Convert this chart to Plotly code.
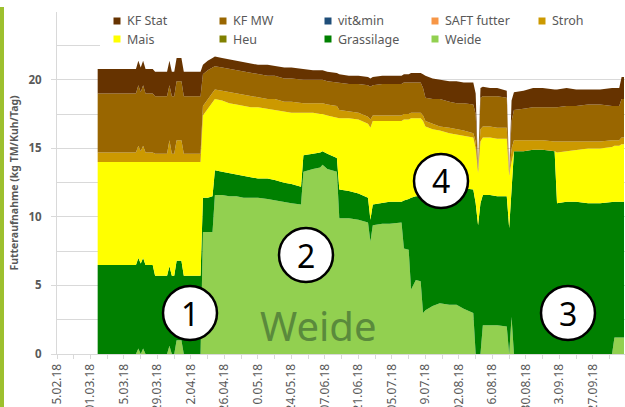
import plotly.graph_objects as go

# ---- data ----
dates = [
    "2018-03-04", "2018-03-20", "2018-03-21", "2018-03-22", "2018-03-23", "2018-03-24",
    "2018-03-27", "2018-03-28", "2018-04-02", "2018-04-03", "2018-04-04", "2018-04-05",
    "2018-04-06", "2018-04-08", "2018-04-09", "2018-04-16", "2018-04-17", "2018-04-19",
    "2018-04-21", "2018-04-22", "2018-04-25", "2018-04-28", "2018-05-01", "2018-05-04",
    "2018-05-07", "2018-05-10", "2018-05-14", "2018-05-17", "2018-05-21", "2018-05-24",
    "2018-05-28", "2018-05-29", "2018-06-02", "2018-06-05", "2018-06-06", "2018-06-08",
    "2018-06-12", "2018-06-13", "2018-06-17", "2018-06-21", "2018-06-25", "2018-06-26",
    "2018-06-27", "2018-07-01", "2018-07-04", "2018-07-09", "2018-07-10", "2018-07-12",
    "2018-07-13", "2018-07-15", "2018-07-17", "2018-07-18", "2018-07-19", "2018-07-22",
    "2018-07-25", "2018-07-29", "2018-08-01", "2018-08-04", "2018-08-08", "2018-08-09",
    "2018-08-10", "2018-08-11", "2018-08-12", "2018-08-15", "2018-08-18", "2018-08-22",
    "2018-08-23", "2018-08-24", "2018-08-25", "2018-08-29", "2018-09-02", "2018-09-06",
    "2018-09-11", "2018-09-12", "2018-09-16", "2018-09-20", "2018-09-25", "2018-09-30",
    "2018-10-05", "2018-10-06", "2018-10-08", "2018-10-09", "2018-10-10",
]

weide = [
    0, 0, 0.4, 0, 0.4, 0, 0, 0, 0, 0.6, 0, 0,
    1.0, 1.0, 0, 0, 8.9, 8.9, 8.9, 11.6, 11.6, 11.5, 11.5, 11.4,
    11.4, 11.4, 11.3, 11.2, 11.1, 11.0, 10.9, 13.3, 13.5, 13.6, 13.8, 13.5,
    13.3, 9.9, 9.9, 9.8, 9.6, 8.2, 9.4, 9.5, 9.5, 9.6, 7.7, 7.6,
    4.7, 5.4, 5.3, 3.0, 3.2, 3.5, 3.7, 3.6, 3.6, 3.3, 3.0, 0,
    0, 0, 2.1, 2.1, 2.1, 2.0, 0, 2.7, 0, 0, 0, 0,
    0, 0, 0, 0, 0, 0, 0, 1.2, 1.2, 1.2, 1.2,
]
grassilage = [
    6.5, 6.5, 6.6, 6.6, 6.6, 6.5, 6.5, 5.7, 5.7, 5.8, 5.7, 5.7,
    5.8, 5.8, 5.7, 5.7, 2.5, 2.5, 2.6, 1.8, 1.7, 1.7, 1.6, 1.6,
    1.5, 1.4, 1.5, 1.5, 1.4, 1.4, 1.3, 1.2, 1.1, 1.1, 1.0, 1.1,
    1.0, 2.1, 2.0, 1.9, 1.8, 1.6, 1.5, 1.5, 1.6, 1.5, 3.5, 3.7,
    6.7, 6.1, 6.2, 8.4, 8.2, 8.2, 8.3, 8.5, 8.5, 8.8, 9.0, 11.0,
    9.4, 11.0, 9.5, 9.5, 9.4, 9.5, 9.2, 9.8, 14.8, 14.8, 14.9, 14.9,
    14.8, 11.0, 11.1, 11.1, 11.0, 11.0, 11.1, 9.9, 9.9, 9.9, 9.9,
]
heu = [
    0, 0, 0, 0, 0, 0, 0, 0, 0, 0, 0, 0,
    0, 0, 0, 0, 0, 0, 0, 0, 0, 0, 0, 0,
    0, 0, 0, 0, 0, 0, 0, 0, 0, 0, 0, 0,
    0, 0, 0, 0, 0, 0, 0, 0, 0, 0, 0, 0,
    0, 0, 0, 0, 0, 0, 0, 0, 0, 0, 0, 0,
    0, 0, 0, 0, 0, 0, 0, 0, 0, 0, 0, 0,
    0, 0, 0, 0, 0, 0, 0, 0, 0, 0, 0,
]
mais = [
    7.5, 7.5, 7.0, 7.4, 7.0, 7.5, 7.5, 8.3, 8.3, 7.6, 8.3, 8.3,
    7.2, 7.2, 8.3, 8.3, 6.0, 6.5, 6.9, 5.2, 5.2, 5.1, 5.1, 5.1,
    5.1, 5.2, 5.1, 5.1, 5.2, 5.2, 5.4, 3.1, 3.0, 2.8, 2.7, 2.8,
    2.9, 5.2, 5.3, 5.4, 5.4, 6.7, 6.1, 6.0, 5.9, 5.9, 5.9, 5.8,
    5.8, 5.7, 5.7, 5.6, 5.2, 4.7, 4.3, 4.0, 3.9, 3.8, 3.8, 4.0,
    3.8, 4.5, 4.2, 4.2, 4.2, 4.2, 3.8, 1.5, 0, 0, 0, 0,
    0, 3.7, 3.7, 3.8, 4.0, 4.0, 4.0, 4.1, 4.1, 4.2, 4.2,
]
stroh = [
    0.7, 0.7, 1.2, 0.8, 1.2, 0.7, 0.7, 0.6, 0.6, 1.6, 0.6, 0.6,
    1.6, 1.6, 0.6, 0.6, 0.7, 0.7, 0.7, 0.7, 0.7, 0.8, 0.8, 0.8,
    0.8, 0.7, 0.7, 0.8, 0.7, 0.8, 0.7, 0.7, 0.7, 0.8, 0.8, 0.8,
    0.9, 0.6, 0.5, 0.5, 0.5, 0.6, 0.4, 0.4, 0.4, 0.4, 0.4, 0.4,
    0.4, 0.4, 0.4, 0.4, 0.4, 0.4, 0.3, 0.4, 0.4, 0.4, 0.3, 0.5,
    0.1, 0.9, 0.8, 0.8, 0.8, 0.8, 0.0, 1.0, 0.8, 0.8, 0.7, 0.7,
    0.7, 0.8, 0.7, 0.6, 0.5, 0.5, 0.5, 0.4, 0.4, 0.5, 0.5,
]
saft_futter = [
    0, 0, 0, 0, 0, 0, 0, 0, 0, 0, 0, 0,
    0, 0, 0, 0, 0, 0, 0, 0, 0, 0, 0, 0,
    0, 0, 0, 0, 0, 0, 0, 0, 0, 0, 0, 0,
    0, 0, 0, 0, 0, 0, 0, 0, 0, 0, 0, 0,
    0, 0, 0, 0, 0, 0, 0, 0, 0, 0, 0, 0,
    0, 0, 0, 0, 0, 0, 0, 0, 0, 0, 0, 0,
    0, 0, 0, 0, 0, 0, 0, 0, 0, 0, 0,
]
vit_min = [
    0, 0, 0, 0, 0, 0, 0, 0, 0, 0, 0, 0,
    0, 0, 0, 0, 0, 0, 0, 0, 0, 0, 0, 0,
    0, 0, 0, 0, 0, 0, 0, 0, 0, 0, 0, 0,
    0, 0, 0, 0, 0, 0, 0, 0, 0, 0, 0, 0,
    0, 0, 0, 0, 0, 0, 0, 0, 0, 0, 0, 0,
    0, 0, 0, 0, 0, 0, 0, 0, 0, 0, 0, 0,
    0, 0, 0, 0, 0, 0, 0, 0, 0, 0, 0,
]
kf_mw = [
    4.3, 4.3, 4.4, 4.3, 4.4, 4.3, 4.3, 4.2, 4.2, 4.0, 4.2, 4.2,
    4.3, 4.3, 4.2, 4.2, 2.3, 2.1, 1.8, 1.7, 1.7, 1.7, 1.7, 1.7,
    1.7, 1.7, 1.7, 1.7, 1.7, 1.7, 1.7, 1.7, 1.7, 1.7, 1.7, 1.7,
    1.7, 2.0, 2.0, 2.1, 2.3, 2.4, 2.2, 2.3, 2.3, 2.3, 2.3, 2.3,
    2.2, 2.2, 2.2, 2.0, 1.7, 1.8, 2.0, 1.9, 1.9, 2.0, 2.1, 2.0,
    0.1, 2.3, 2.2, 2.2, 2.3, 2.2, 0.1, 2.0, 2.2, 2.3, 2.4, 2.4,
    2.5, 2.5, 2.6, 2.6, 2.7, 2.7, 2.5, 2.5, 2.5, 2.8, 2.8,
]
kf_stat = [
    1.8, 1.8, 1.8, 1.8, 1.8, 1.8, 1.8, 1.8, 1.8, 1.8, 1.8, 1.8,
    1.7, 1.7, 1.8, 1.8, 0.7, 0.7, 0.7, 0.7, 0.7, 0.7, 0.7, 0.7,
    0.7, 0.7, 0.8, 0.7, 0.8, 0.8, 0.8, 0.8, 0.7, 0.7, 0.7, 0.7,
    0.7, 0.6, 0.6, 0.6, 0.6, 0.6, 0.6, 0.6, 0.6, 0.6, 0.6, 0.6,
    0.7, 0.7, 0.7, 1.0, 1.6, 1.5, 1.4, 1.5, 1.6, 1.5, 1.6, 1.5,
    0.1, 0.7, 0.7, 0.6, 0.6, 0.5, 0.0, 1.5, 1.3, 1.3, 1.4, 1.4,
    1.3, 1.3, 1.3, 1.2, 1.1, 1.1, 1.3, 1.3, 1.3, 1.6, 1.6,
]

# stacking order bottom -> top
stack_names = ["Weide", "Grassilage", "Heu", "Mais", "Stroh", "SAFT futter", "vit&min", "KF MW", "KF Stat"]
stack_values = [weide, grassilage, heu, mais, stroh, saft_futter, vit_min, kf_mw, kf_stat]
# legend layout: two rows, five columns
legend_rows = [["KF Stat", "KF MW", "vit&min", "SAFT futter", "Stroh"],
               ["Mais", "Heu", "Grassilage", "Weide"]]
colors = {
    "KF Stat": "#663300", "KF MW": "#996600", "vit&min": "#1F4E79", "SAFT futter": "#F79646",
    "Stroh": "#CC9900", "Mais": "#FFFF00", "Heu": "#808000", "Grassilage": "#008000", "Weide": "#92D050",
}
y_ticks = [0, 5, 10, 15, 20]
y_title = "Futteraufnahme (kg TM/Kuh/Tag)"

GRAY = "#595959"
GRID = "#D9D9D9"
FONT = "Noto Sans"

# plot-area geometry in pixels (for placing decorations in paper coords)
W, H = 625, 407
ML, MR, MT, MB = 57, 0, 12, 53
PW, PH = W - ML - MR, H - MT - MB


def px(x):
    return (x - ML) / PW


def py(y):
    return (H - MB - y) / PH


fig = go.Figure()
for name, vals in zip(stack_names, stack_values):
    fig.add_trace(go.Scatter(
        x=dates, y=vals, name=name, stackgroup="futter", mode="lines",
        line=dict(width=0, color=colors[name]), fillcolor=colors[name],
        showlegend=False, hoverinfo="x+y+name",
    ))

DAY = 86400000
fig.update_xaxes(
    type="date", range=["2018-02-15", "2018-10-10 10:00"], automargin=False,
    tick0="2018-02-15", dtick=14 * DAY, tickformat="%d.%m.%y", tickangle=-90,
    ticks="outside", ticklen=4, tickcolor=GRID, showline=True, linecolor=GRID,
    showgrid=False, zeroline=False,
    tickfont=dict(family=FONT, size=12, color=GRAY),
    minor=dict(tick0="2018-02-15", dtick=7 * DAY, ticks="outside", ticklen=4, tickcolor=GRID, showgrid=False),
)
fig.update_yaxes(
    range=[0, 24.95], tickmode="array", tickvals=y_ticks, automargin=False,
    ticks="outside", ticklen=5, tickcolor=GRID, showline=True, linecolor=GRID,
    showgrid=True, gridcolor=GRID, zeroline=False, ticklabelstandoff=7,
    tickfont=dict(family=FONT, size=11.5, color=GRAY, weight="bold"),
    minor=dict(tickmode="linear", tick0=0, dtick=2.5, showgrid=True, gridcolor=GRID, ticks=""),
    title=dict(text=y_title, font=dict(family=FONT, size=10.5, color=GRAY, weight="bold"), standoff=7),
)

fig.update_layout(
    width=W, height=H,
    margin=dict(l=ML, r=MR, t=MT, b=MB),
    paper_bgcolor="white", plot_bgcolor="white",
    font=dict(family=FONT, color=GRAY),
    showlegend=False,
)

# slide decoration: green bar on the left edge
fig.add_shape(type="rect", xref="paper", yref="paper", x0=px(0), x1=px(4), y0=py(H + 5), y1=py(7),
              fillcolor="#9DC02E", line=dict(width=0), layer="above")

# legend (white box, square swatches, labels)
fig.add_shape(type="rect", xref="paper", yref="paper", x0=px(100), x1=px(W + 5), y0=py(50), y1=py(9),
              fillcolor="white", line=dict(width=0), layer="above")
col_x = [117, 223, 328, 435, 542]
row_y = [21, 39]
for r, row in enumerate(legend_rows):
    for c, name in enumerate(row):
        fig.add_shape(type="rect", xref="paper", yref="paper", xsizemode="pixel", ysizemode="pixel",
                      xanchor=px(col_x[c]), yanchor=py(row_y[r]), x0=-3.5, x1=3.5, y0=-3.5, y1=3.5,
                      fillcolor=colors[name], line=dict(width=0), layer="above")
        fig.add_annotation(x=px(col_x[c] + 8), y=py(row_y[r]), xref="paper", yref="paper", text=name,
                           showarrow=False, xanchor="left", yanchor="middle",
                           font=dict(family=FONT, size=12.5, color=GRAY))

# numbered circles
circles = [("1", 190, 313), ("2", 306, 255), ("4", 441, 181), ("3", 568, 313)]
for label, cx, cy in circles:
    fig.add_shape(type="circle", xref="paper", yref="paper", xsizemode="pixel", ysizemode="pixel",
                  xanchor=px(cx), yanchor=py(cy), x0=-27, x1=27, y0=-27, y1=27,
                  fillcolor="white", line=dict(color="black", width=2.5), layer="above")
    fig.add_annotation(x=px(cx), y=py(cy), xref="paper", yref="paper", text=label, showarrow=False,
                       xanchor="center", yanchor="middle", font=dict(family=FONT, size=32, color="black"))

fig.add_annotation(x=px(258), y=py(325), xref="paper", yref="paper", text="Weide", showarrow=False,
                   xanchor="left", yanchor="middle", font=dict(family=FONT, size=40, color="#5A8A3C"))

# remove the default page margin so the figure sits at the window's top-left corner
fig.write_html("out.html", config={"displayModeBar": False},
               post_script="document.body.style.margin='0px';")
